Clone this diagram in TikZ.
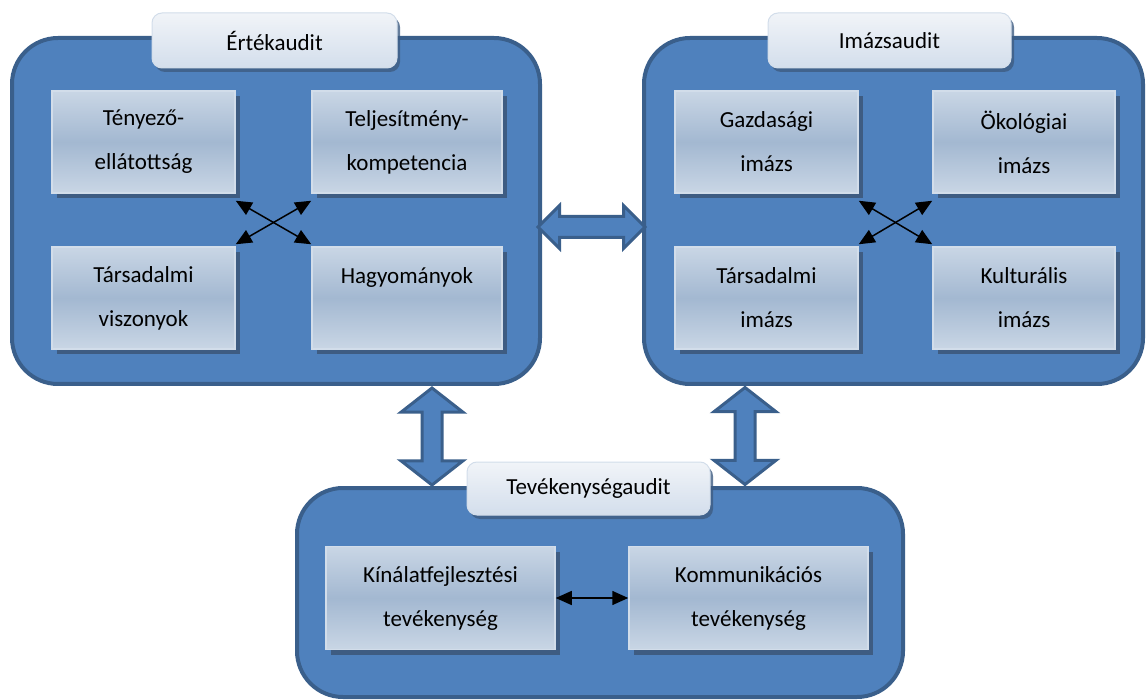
\documentclass[tikz,border=0pt]{standalone}
\usepackage{fontspec}
\setmainfont{Carlito}
\usepackage{tikz}
\usetikzlibrary{arrows.meta,positioning,calc,shapes.arrows,shadows}

\definecolor{boxblue}{HTML}{4F81BD}
\definecolor{edgeblue}{HTML}{3A5F8B}
\definecolor{shadowblue}{HTML}{3E5C82}
\definecolor{innertop}{HTML}{C9D6E5}
\definecolor{innermid}{HTML}{A3B8D1}
\definecolor{innerrim}{HTML}{D2DDEA}
\definecolor{tabtop}{HTML}{F1F4F8}
\definecolor{tabbot}{HTML}{D3DEEC}

\tikzset{
  bigbox/.style={draw=edgeblue, line width=4pt, fill=boxblue, rounded corners=46pt},
  tab/.style={draw=innerrim, line width=1pt, top color=tabtop, bottom color=tabbot,
    rounded corners=10pt, minimum height=55pt,
    font=\fontsize{23pt}{26pt}\selectfont,
    drop shadow={shadow xshift=3pt, shadow yshift=-4pt, fill=shadowblue, opacity=0.8}},
  inner/.style={draw=innerrim, line width=1.5pt, top color=innertop, bottom color=innertop,
    middle color=innermid, minimum height=102pt, align=center,
    font=\fontsize{23pt}{44pt}\selectfont,
    drop shadow={shadow xshift=5pt, shadow yshift=-5pt, fill=shadowblue, opacity=1}},
  cross/.style={{Triangle[length=16pt,width=14pt]}-{Triangle[length=16pt,width=14pt]}, line width=1.5pt},
  blockarrow/.style={double arrow, draw=edgeblue, line width=3pt, fill=boxblue,
    double arrow head indent=0pt, inner xsep=0pt, font=\fontsize{1pt}{1pt}\selectfont}
}

\begin{document}
\begin{tikzpicture}[x=1pt,y=-1pt]
        \useasboundingbox (0,0) rectangle (1146,700);
        \clip (0,0) rectangle (1146,700);

        % big boxes
        \node[bigbox, minimum width=528pt, minimum height=346pt] (ertek) at (276,211) {};
        \node[bigbox, minimum width=499pt, minimum height=346pt] (imazs) at (893.5,211) {};
        \node[bigbox, minimum width=606pt, minimum height=209pt] (tevek) at (600,592.5) {};

        % title tabs
        \node[tab, minimum width=245pt] (ertektab) at (274.5,40.5) {Értékaudit};
        \node[tab, minimum width=243pt] (imazstab) at (889.5,40.5) {Imázsaudit};
        \node[tab, minimum width=243pt, minimum height=53pt] (tevektab) at (588.5,488.5) {Tevékenységaudit};

        % Értékaudit boxes
        \node[inner, minimum width=183pt] (teny) at (143.5,142) {Tényező-\\ellátottság};
        \node[inner, minimum width=190pt] (telj) at (407,142) {Teljesítmény-\\kompetencia};
        \node[inner, minimum width=183pt] (tars) at (143.5,298) {Társadalmi\\viszonyok};
        \node[inner, minimum width=190pt] (hagy) at (407,298) {Hagyományok\\\mbox{}};

        % Imázsaudit boxes
        \node[inner, minimum width=183pt] (gazd) at (766.5,142) {Gazdasági\\imázs};
        \node[inner, minimum width=182pt] (okol) at (1024,142) {Ökológiai\\imázs};
        \node[inner, minimum width=183pt] (tarsim) at (766.5,298) {Társadalmi\\imázs};
        \node[inner, minimum width=182pt] (kult) at (1024,298) {Kulturális\\imázs};

        % Tevékenységaudit boxes
        \node[inner, minimum width=229pt, minimum height=103pt] (kinal) at (440.5,598) {Kínálatfejlesztési\\tevékenység};
        \node[inner, minimum width=239pt, minimum height=103pt] (kommun) at (748.5,598) {Kommunikációs\\tevékenység};

        % crossing arrows
        \draw[cross] ([yshift=-7pt]teny.south east) -- ([yshift=2pt]hagy.north west);
        \draw[cross] ([yshift=-7pt]telj.south west) -- ([yshift=2pt]tars.north east);
        \draw[cross] ([yshift=-7pt]gazd.south east) -- ([yshift=2pt]kult.north west);
        \draw[cross] ([yshift=-7pt]okol.south west) -- ([yshift=2pt]tarsim.north east);
        \draw[cross] (kinal.east) -- (kommun.west);

        % block arrows between audits
        \node[blockarrow, inner ysep=9pt, minimum height=107pt, minimum width=43pt,
          double arrow head extend=11pt, double arrow tip angle=90] (ertimaz) at (591.5,227) {};
        \node[blockarrow, inner ysep=8.5pt, rotate=90, minimum height=97pt, minimum width=61pt,
          double arrow head extend=21pt, double arrow tip angle=104] (erttev) at (432,436.5) {};
        \node[blockarrow, inner ysep=8.5pt, rotate=90, minimum height=97pt, minimum width=61pt,
          double arrow head extend=21pt, double arrow tip angle=104] (imaztev) at (745,436) {};

\end{tikzpicture}
\end{document}
